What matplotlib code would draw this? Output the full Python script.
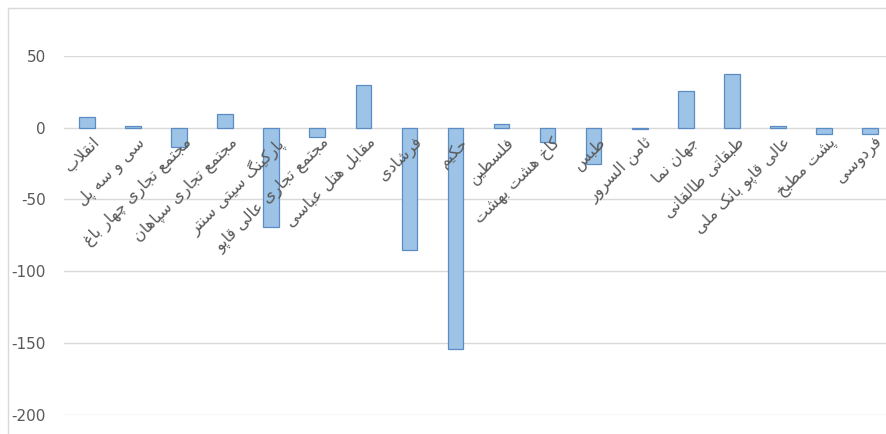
import matplotlib
matplotlib.use("Agg")
import matplotlib.pyplot as plt
from matplotlib.patches import Rectangle

# data
places = [
    "انقلاب", "سی و سه پل", "مجتمع تجاری چهار باغ", "مجتمع تجاری سپاهان",
    "پارکینگ سیتی سنتر", "مجتمع تجاری عالی قاپو", "مقابل هتل عباسی", "فرشادی",
    "حکیم", "فلسطین", "کاخ هشت بهشت", "طبس", "ثامن السرور", "جهان نما",
    "طبقاتی طالقانی", "عالی قاپو بانک ملی", "پشت مطبخ", "فردوسی",
]
values = [7.4, 1.0, -13.2, 9.3, -69.4, -6.5, 29.5, -85.0,
          -154.0, 2.3, -10.0, -25.6, -1.2, 25.1, 37.0, 1.4, -4.7, -4.7]
yticks = [50, 0, -50, -100, -150, -200]

# matplotlib does no arabic shaping, so pick presentation forms by hand
# letter -> (isolated form code, joins to the next letter)
FORMS = {
    "ا": (0xFE8D, False), "ب": (0xFE8F, True), "پ": (0xFB56, True),
    "ت": (0xFE95, True), "ث": (0xFE99, True), "ج": (0xFE9D, True),
    "چ": (0xFB7A, True), "ح": (0xFEA1, True), "خ": (0xFEA5, True),
    "د": (0xFEA9, False), "ذ": (0xFEAB, False), "ر": (0xFEAD, False),
    "ز": (0xFEAF, False), "س": (0xFEB1, True), "ش": (0xFEB5, True),
    "ط": (0xFEC1, True), "ع": (0xFEC9, True), "ف": (0xFED1, True),
    "ق": (0xFED5, True), "ک": (0xFB8E, True), "گ": (0xFB92, True),
    "ل": (0xFEDD, True), "م": (0xFEE1, True), "ن": (0xFEE5, True),
    "و": (0xFEED, False), "ه": (0xFEE9, True), "ی": (0xFBFC, True),
}


def shape(text):
    out = []
    i = 0
    while i < len(text):
        ch = text[i]
        if ch not in FORMS:
            out.append(ch)
            i += 1
            continue
        prev = text[i - 1] if i > 0 else " "
        joined_before = prev in FORMS and FORMS[prev][1]
        nxt = text[i + 1] if i + 1 < len(text) else " "
        if ch == "ل" and nxt == "ا":
            out.append(chr(0xFEFC if joined_before else 0xFEFB))
            i += 2
            continue
        base, dual = FORMS[ch]
        joins_after = dual and nxt in FORMS
        if joined_before and joins_after:
            code = base + 3
        elif joined_before:
            code = base + 1
        elif joins_after:
            code = base + 2
        else:
            code = base
        out.append(chr(code))
        i += 1
    return "".join(out)[::-1]


W, H = 887, 434
fig = plt.figure(figsize=(W / 100, H / 100), dpi=100)

# outer chart border
fig.patches.append(Rectangle((8 / W, -0.1), 1.2, (H - 8) / H + 0.1,
                             transform=fig.transFigure, fill=False,
                             edgecolor="#d9d9d9", lw=1))

ax = fig.add_axes([64 / W, 19 / H, 829 / W, 359.3 / H])
x = list(range(len(places)))

# gridlines under the bars
for v in yticks:
    ax.axhline(v, color="#d9d9d9", lw=1, zorder=0)

ax.bar(x, values, width=0.34, color="#9dc3e6", edgecolor="#5b8cc4", lw=0.9, zorder=2)

ax.set_xlim(-0.5, len(places) - 0.5)
ax.set_ylim(-200, 50)
ax.set_yticks(yticks)
ax.set_yticklabels([str(v) for v in yticks], color="#595959", fontsize=11)
ax.set_xticks([])
for s in ax.spines.values():
    s.set_visible(False)
ax.tick_params(axis="y", length=0, pad=13)

# category labels sit on the zero line and over the bars
for i, p in enumerate(places):
    ax.annotate(shape(p), xy=(i, 0), xytext=(3, -5), textcoords="offset points",
                rotation=45, rotation_mode="anchor", ha="right", va="top",
                color="#595959", fontsize=11.5, family="DejaVu Sans", zorder=4)

fig.savefig("out.png", dpi=100)
